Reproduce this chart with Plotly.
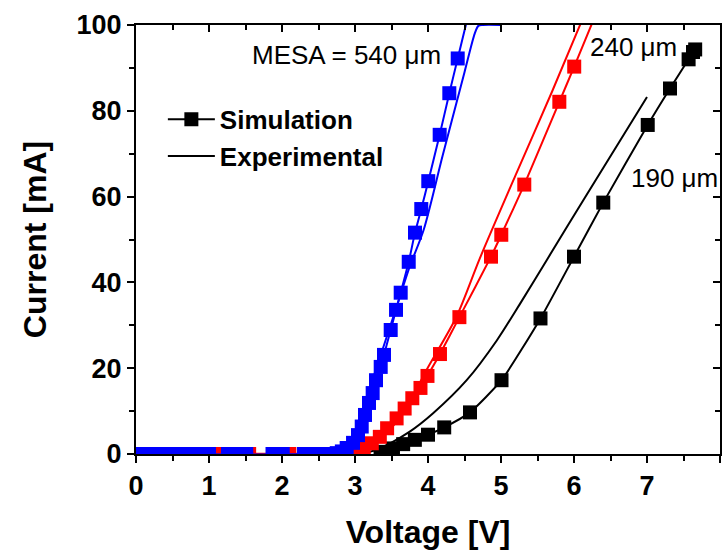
import plotly.graph_objects as go

# ---------------- data ----------------
# MESA = 540 um (blue)
blue_sim_v = [0.00, 0.05, 0.10, 0.15, 0.20, 0.25, 0.30, 0.35, 0.40, 0.45, 0.50, 0.55, 0.60,
              0.65, 0.70, 0.75, 0.80, 0.85, 0.90, 0.95, 1.00,
              1.26, 1.31, 1.36, 1.41, 1.46, 1.51,
              1.87, 1.92, 1.97, 2.01,
              2.30, 2.35, 2.40, 2.45, 2.50, 2.55, 2.60, 2.65, 2.70, 2.75, 2.82,
              2.886, 2.973, 3.041, 3.092, 3.137, 3.192, 3.242, 3.288, 3.352, 3.397,
              3.489, 3.562, 3.626, 3.736, 3.822, 3.908, 4.004, 4.160, 4.292, 4.407]
blue_sim_i = [0.0] * 21 + [0.0] * 6 + [0.0] * 4 + [0.0] * 9 + [0.2, 0.6,
              1.4, 2.6, 4.4, 6.4, 9.1, 11.9, 14.2, 17.2, 20.3, 23.1,
              28.9, 33.6, 37.6, 44.8, 51.6, 57.1, 63.6, 74.4, 84.1, 92.2]
blue_simline_v = [0.0, 2.70, 2.82, 2.886, 2.973, 3.041, 3.092, 3.137, 3.192, 3.242, 3.288,
                  3.352, 3.397, 3.489, 3.562, 3.626, 3.736, 3.822, 3.908, 4.004, 4.160,
                  4.292, 4.407, 4.53]
blue_simline_i = [0.0, 0.1, 0.6, 1.4, 2.6, 4.4, 6.4, 9.1, 11.9, 14.2, 17.2,
                  20.3, 23.1, 28.9, 33.6, 37.6, 44.8, 51.6, 57.1, 63.6, 74.4,
                  84.1, 92.2, 100.8]
blue_exp_v = [0.0, 2.60, 2.79, 2.93, 3.05, 3.21, 3.39, 3.57, 3.75, 3.94, 4.20, 4.50, 4.64, 4.69, 4.75, 5.0]
blue_exp_i = [0.0, 0.1, 0.9, 2.5, 7.2, 15.7, 25.0, 34.3, 43.7, 52.2, 69.5, 89.0, 98.0, 99.8, 100.0, 100.0]

# 240 um (red)
red_sim_v = [0.07, 0.57, 1.07, 1.55, 2.10, 2.60, 3.02, 3.12, 3.23, 3.34, 3.44, 3.57, 3.68, 3.785,
             3.897, 3.993, 4.164, 4.43, 4.863, 5.004, 5.319, 5.799, 6.003]
red_sim_i = [0.0, 0.0, 0.0, 0.0, 0.0, 0.0, 0.6, 1.3, 2.5, 4.0, 6.0, 8.3, 10.6, 13.0,
             15.4, 18.2, 23.3, 31.9, 46.0, 51.1, 62.8, 82.1, 90.3]
red_simline_v = [0.0, 2.60, 2.90, 3.02, 3.12, 3.23, 3.34, 3.44, 3.57, 3.68, 3.785, 3.897, 3.993,
                 4.164, 4.43, 4.863, 5.004, 5.319, 5.799, 6.003, 6.25]
red_simline_i = [0.0, 0.0, 0.3, 0.6, 1.3, 2.5, 4.0, 6.0, 8.3, 10.6, 13.0, 15.4, 18.2,
                 23.3, 31.9, 46.0, 51.1, 62.8, 82.1, 90.3, 100.5]
red_exp_v = [0.0, 2.60, 2.84, 3.11, 3.43, 3.71, 3.98, 4.39, 4.71, 5.20, 5.70, 6.09]
red_exp_i = [0.0, 0.05, 0.2, 1.3, 4.8, 11.0, 19.6, 32.0, 45.6, 65.0, 84.5, 100.3]

# 190 um (black)
black_sim_v = [3.35, 3.52, 3.66, 3.82, 4.00, 4.222, 4.575, 5.007, 5.541, 6.00, 6.401,
               7.01, 7.315, 7.57, 7.63, 7.66]
black_sim_i = [0.5, 1.3, 2.3, 3.3, 4.5, 6.2, 9.7, 17.2, 31.6, 46.0, 58.6,
               76.7, 85.2, 92.0, 93.7, 94.3]
black_exp_v = [0.0, 2.90, 3.20, 3.48, 3.75, 4.07, 4.53, 4.94, 5.26, 5.63, 6.14, 7.00]
black_exp_i = [0.0, 0.0, 0.5, 2.5, 5.2, 9.5, 17.2, 26.4, 35.0, 45.3, 59.5, 83.2]

x_tick_vals = [0, 1, 2, 3, 4, 5, 6, 7, 8]
y_tick_vals = [0, 20, 40, 60, 80, 100]

labels = ["MESA = 540 μm", "240 μm", "190 μm"]
label_v = [2.88, 6.82, 7.37]
label_i = [93.0, 94.9, 64.3]

legend_names = ["Simulation", "Experimental"]

# ---------------- figure ----------------
FONT = "Liberation Sans, Arial, sans-serif"
MS = 14
LW = 2

fig = go.Figure()

def add_group(color, sim_v, sim_i, line_v, line_i, exp_v, exp_i):
    fig.add_trace(go.Scatter(x=exp_v, y=exp_i, mode="lines",
                             line=dict(color=color, width=LW, shape="spline", smoothing=0.8),
                             showlegend=False))
    fig.add_trace(go.Scatter(x=line_v, y=line_i, mode="lines",
                             line=dict(color=color, width=LW, shape="spline", smoothing=0.5),
                             showlegend=False))
    fig.add_trace(go.Scatter(x=sim_v, y=sim_i, mode="markers",
                             marker=dict(symbol="square", size=MS, color=color, line=dict(width=0)),
                             showlegend=False))

add_group("#000000", black_sim_v, black_sim_i, black_sim_v, black_sim_i, black_exp_v, black_exp_i)
add_group("#FF0000", red_sim_v, red_sim_i, red_simline_v, red_simline_i, red_exp_v, red_exp_i)
add_group("#0000FF", blue_sim_v, blue_sim_i, blue_simline_v, blue_simline_i, blue_exp_v, blue_exp_i)

# legend entries
fig.add_trace(go.Scatter(x=[None], y=[None], mode="lines+markers", name=legend_names[0],
                         line=dict(color="black", width=LW),
                         marker=dict(symbol="square", size=MS, color="black")))
fig.add_trace(go.Scatter(x=[None], y=[None], mode="lines", name=legend_names[1],
                         line=dict(color="black", width=LW)))

# dummy trace for mirrored axes (top / right, ticks inside)
fig.add_trace(go.Scatter(x=[None], y=[None], xaxis="x2", yaxis="y2", showlegend=False,
                         hoverinfo="skip"))

for txt, xv, yv in zip(labels, label_v, label_i):
    fig.add_annotation(x=xv, y=yv, text=txt, showarrow=False, xanchor="center",
                       yanchor="middle", font=dict(family=FONT, size=26, color="black"))

axis_common = dict(showgrid=False, zeroline=False, linecolor="black", linewidth=2)

fig.update_layout(
    width=727, height=551,
    margin=dict(l=136, r=7, t=25, b=97),
    paper_bgcolor="white", plot_bgcolor="white",
    font=dict(family=FONT, color="black"),
    xaxis=dict(range=[0, 8], tickvals=x_tick_vals, ticks="outside", ticklen=7, tickwidth=2,
               tickcolor="black",
               minor=dict(dtick=0.5, ticks="outside", ticklen=5, tickwidth=2, tickcolor="black"),
               tickfont=dict(size=27, weight="bold"),
               title=dict(text="Voltage [V]", font=dict(size=32, weight="bold"), standoff=20),
               **axis_common),
    yaxis=dict(range=[0, 100], tickvals=y_tick_vals, ticks="outside", ticklen=7, tickwidth=2,
               tickcolor="black",
               minor=dict(dtick=10, ticks="outside", ticklen=5, tickwidth=2, tickcolor="black"),
               tickfont=dict(size=27, weight="bold"),
               title=dict(text="Current [mA]", font=dict(size=32, weight="bold"), standoff=20),
               **axis_common),
    xaxis2=dict(range=[0, 8], overlaying="x", side="top", anchor="y", tickvals=x_tick_vals,
                ticks="inside", ticklen=7, tickwidth=2, tickcolor="black", showticklabels=False,
                minor=dict(dtick=0.5, ticks="inside", ticklen=5, tickwidth=2, tickcolor="black"),
                **axis_common),
    yaxis2=dict(range=[0, 100], overlaying="y", side="right", anchor="x", tickvals=y_tick_vals,
                ticks="inside", ticklen=7, tickwidth=2, tickcolor="black", showticklabels=False,
                minor=dict(dtick=10, ticks="inside", ticklen=5, tickwidth=2, tickcolor="black"),
                **axis_common),
    legend=dict(x=0.046, y=0.835, xanchor="left", yanchor="top", bgcolor="rgba(0,0,0,0)",
                font=dict(size=26, weight="bold"), itemwidth=47, tracegroupgap=0),
    showlegend=True,
)

fig.write_html("out.html")
